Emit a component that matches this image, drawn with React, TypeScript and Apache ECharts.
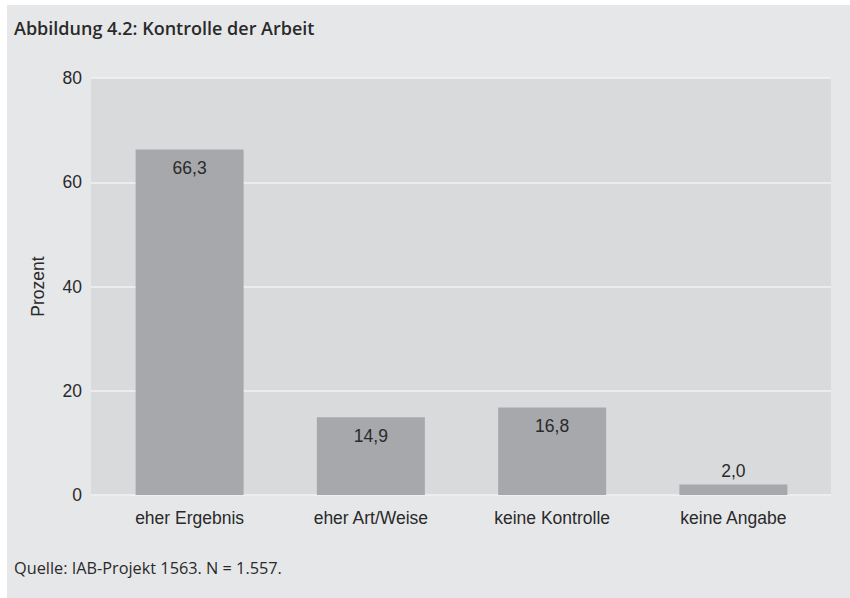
import React, { useEffect, useRef } from "react";
import * as echarts from "echarts";

const categories = ["eher Ergebnis", "eher Art/Weise", "keine Kontrolle", "keine Angabe"];
const values = [66.3, 14.9, 16.8, 2.0];
const yTicks = { min: 0, max: 80, interval: 20 };
const titleText = "Abbildung 4.2: Kontrolle der Arbeit";
const sourceText = "Quelle: IAB-Projekt 1563. N = 1.557.";
const yName = "Prozent";

const FONT = "'Liberation Sans', Arial, sans-serif";
const FONT2 = "'Open Sans', 'Liberation Sans', sans-serif";
const TEXT = "#2a2a2a";

export default function App() {
  const ref = useRef<HTMLDivElement>(null);
  useEffect(() => {
    if (!ref.current) return;
    const chart = echarts.init(ref.current, null, { renderer: "svg" });
    chart.setOption({
      animation: false,
      backgroundColor: "#ffffff",
      textStyle: { fontFamily: FONT },
      graphic: [
        { type: "rect", z: -10, shape: { x: 7, y: 5, width: 843, height: 593 }, style: { fill: "#e6e7e9" } },
      ],
      title: [
        { text: titleText, left: 9, top: 14, textStyle: { fontFamily: FONT2, fontSize: 18, fontWeight: 600, color: TEXT } },
        { text: sourceText, left: 9, top: 555, textStyle: { fontFamily: FONT2, fontSize: 16.3, fontWeight: "normal", color: TEXT } },
      ],
      grid: [
        { left: 91, right: 19, top: 78, bottom: 103, show: true, backgroundColor: "#d9dadc", borderWidth: 0 },
        { left: 99, right: 26, top: 78, bottom: 103 },
      ],
      xAxis: [
        { type: "category", gridIndex: 0, data: categories, show: false },
        {
          type: "category",
          gridIndex: 1,
          data: categories,
          axisLine: { show: false },
          axisTick: { show: false },
          axisLabel: { fontSize: 17.5, color: TEXT, margin: 14, fontFamily: FONT },
        },
      ],
      yAxis: [
        {
          type: "value",
          gridIndex: 0,
          min: yTicks.min,
          max: yTicks.max,
          interval: yTicks.interval,
          name: yName,
          nameLocation: "middle",
          nameGap: 44,
          nameTextStyle: { fontSize: 17.5, color: TEXT, fontFamily: FONT },
          axisLine: { show: false },
          axisTick: { show: false },
          axisLabel: { fontSize: 17.5, color: TEXT, margin: 9, fontFamily: FONT },
          splitLine: { show: true, lineStyle: { color: "#f2f2f3", width: 1.5 } },
        },
        {
          type: "value",
          gridIndex: 1,
          min: yTicks.min,
          max: yTicks.max,
          interval: yTicks.interval,
          show: false,
          splitLine: { show: false },
        },
      ],
      series: [
        {
          type: "bar",
          xAxisIndex: 1,
          yAxisIndex: 1,
          barWidth: 108,
          itemStyle: { color: "#a7a8ab" },
          data: values.map((v) => ({
            value: v,
            label: {
              show: true,
              position: v < 5 ? "top" : "insideTop",
              distance: v < 5 ? 5 : 10,
              formatter: (p: any) => Number(p.value).toFixed(1).replace(".", ","),
              fontSize: 17.5,
              color: TEXT,
              fontFamily: FONT,
            },
          })),
        },
      ],
    });
    return () => chart.dispose();
  }, []);
  return <div ref={ref} style={{ position: "fixed", left: 0, top: 0, width: 850, height: 598 }} />;
}
